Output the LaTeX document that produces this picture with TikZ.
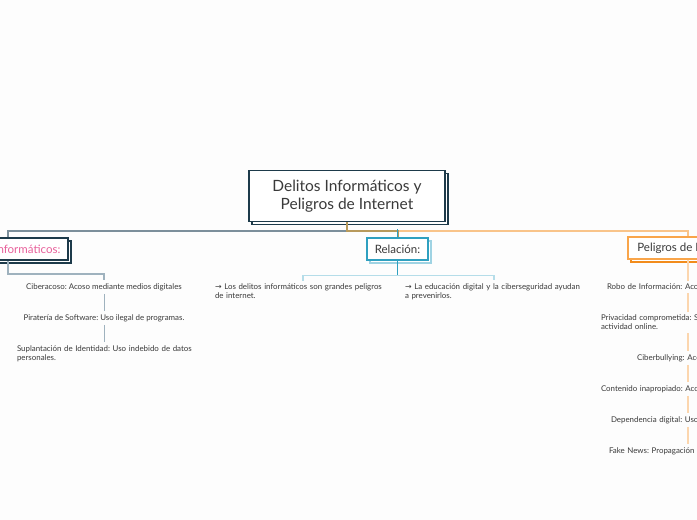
\documentclass[tikz,border=0pt]{standalone}
\usepackage{fontspec}
\setmainfont{Lato}
\newfontfamily\sym{DejaVu Sans}
\usetikzlibrary{shadows}
\frenchspacing
\newcommand\mynohyph{\hyphenpenalty=10000 \exhyphenpenalty=10000\relax}
\definecolor{bg}{HTML}{FDFDFD}
\definecolor{navy}{HTML}{1D3A4A}
\definecolor{txt}{HTML}{3A3A3A}
\definecolor{pinktxt}{HTML}{E8609B}
\definecolor{tealc}{HTML}{2FA0C0}
\definecolor{tealshadow}{HTML}{9FD3E3}
\definecolor{lightblue}{HTML}{B5DDE9}
\definecolor{orangefront}{HTML}{F9A54A}
\definecolor{orangeshadow}{HTML}{F28C1C}
\definecolor{orangeline}{HTML}{F9C48A}
\definecolor{orangelight}{HTML}{FCD6AE}
\definecolor{grayline}{HTML}{7C8F9B}
\definecolor{graylight}{HTML}{9FB2BE}
\definecolor{goldline}{HTML}{B89A5C}
\tikzset{
  smalltext/.style={font=\fontsize{7.9}{9}\selectfont\frenchspacing\mynohyph,
    text=txt, inner xsep=0pt, inner ysep=3pt},
  rootbox/.style={draw=navy, line width=1.5pt, fill=white, minimum width=196pt, minimum height=51pt,
    align=center, text=txt, font=\fontsize{15.5}{18}\selectfont,
    copy shadow={shadow xshift=3pt, shadow yshift=-3pt, draw=navy, fill=white, line width=1.5pt}},
  leftbox/.style={draw=navy, line width=1.5pt, fill=white, minimum width=120pt, minimum height=22pt,
    text=pinktxt, font=\fontsize{11.5}{13}\selectfont,
    copy shadow={shadow xshift=3pt, shadow yshift=-3pt, draw=navy, fill=white, line width=1.5pt}},
  relbox/.style={draw=tealc, line width=1.3pt, fill=white, minimum width=61pt, minimum height=22pt,
    text=txt, font=\fontsize{11.5}{13}\selectfont,
    copy shadow={shadow xshift=3pt, shadow yshift=-3pt, draw=tealshadow, fill=white, line width=1.3pt}},
  rightbox/.style={draw=orangefront, line width=1.3pt, fill=white, minimum width=120pt, minimum height=22pt,
    text=txt, font=\fontsize{11.5}{13}\selectfont,
    copy shadow={shadow xshift=3pt, shadow yshift=-3pt, draw=orangeshadow, fill=white, line width=1.3pt}},
  grayconn/.style={draw=grayline, line width=2pt},
  graythin/.style={draw=graylight, line width=1pt},
  orangeconn/.style={draw=orangeline, line width=2pt},
  orangethin/.style={draw=orangelight, line width=1.5pt},
  goldconn/.style={draw=goldline, line width=2pt},
  tealconn/.style={draw=tealc, line width=1.5pt},
  blueconn/.style={draw=lightblue, line width=1.5pt},
}
\begin{document}
\begin{tikzpicture}[x=1pt,y=-1pt]
\useasboundingbox (0,0) rectangle (697,520);
\fill[bg] (0,0) rectangle (697,520);
\clip (0,0) rectangle (697,520);

% main nodes
\node[rootbox] (root) at (347,196) {\raisebox{-2pt}{Delitos Informáticos y}\\\raisebox{-2pt}{Peligros de Internet}};
\node[leftbox] (L) at (8,249) {Delitos Informáticos:};
\node[relbox] (Rel) at (397.5,249) {Relación:};
\node[rightbox] (R) at (688,248) {Peligros de Internet:};

% left children
\node[smalltext] (c1) at (104,287) {Ciberacoso: Acoso mediante medios digitales};
\node[smalltext] (c2) at (104,318) {Piratería de Software: Uso ilegal de programas.};
\node[smalltext, text width=174pt, align=left] (c3) at (104,353.5) {\mbox{Suplantación de Identidad: Uso indebido de datos}\\personales.};

% relation children
\node[smalltext, text width=176pt, align=left] (a1) at (303,291.5) {\mbox{{\sym →} Los delitos informáticos son grandes peligros}\\de internet.};
\node[smalltext, text width=178pt, align=left] (a2) at (494,291.5) {\mbox{{\sym →} La educación digital y la ciberseguridad ayudan}\\a prevenirlos.};

% right children
\node[smalltext, text width=162pt, align=left] (r1) at (688,287) {\mbox{Robo de Información: Aco}};
\node[smalltext, text width=174pt, align=left] (r2) at (688,322.5) {\mbox{Privacidad comprometida: S}\\actividad online.};
\node[smalltext, text width=102pt, align=left] (r3) at (688,358) {\mbox{Ciberbullying: Aco}};
\node[smalltext, text width=174pt, align=left] (r4) at (688,389) {\mbox{Contenido inapropiado: Aco}};
\node[smalltext, text width=154pt, align=left] (r5) at (688,420) {\mbox{Dependencia digital: Uso}};
\node[smalltext, text width=158pt, align=left] (r6) at (688,451) {\mbox{Fake News: Propagación d}};

% connectors from root
\draw[grayconn] (root.south) -- ++(0,9) -| (L.north);
\draw[orangeconn] (root.south) ++(0,9) -| (R.north);
\draw[goldconn] (root.south) -- ++(0,9) -| (Rel.north);
\draw[tealconn] (Rel.north) -- ++(0,-8);

% left chain
\draw[graythin, line width=1.5pt] (L.south) -- ++(0,13) -| (c1.north);
\draw[graythin] (c1.south) -- (c2.north);
\draw[graythin] (c2.south) -- (c3.north);

% relation children
\draw[tealconn] (Rel.south) -- ++(0,15) coordinate (rj);
\draw[blueconn] (rj) -| (a1.north);
\draw[blueconn] (rj) -| (a2.north);

% right chain
\draw[orangethin] (R.south) -- (r1.north);
\draw[orangethin] (r1.south) -- (r2.north);
\draw[orangethin] (r2.south) -- (r3.north);
\draw[orangethin] (r3.south) -- (r4.north);
\draw[orangethin] (r4.south) -- (r5.north);
\draw[orangethin] (r5.south) -- (r6.north);
\end{tikzpicture}
\end{document}
